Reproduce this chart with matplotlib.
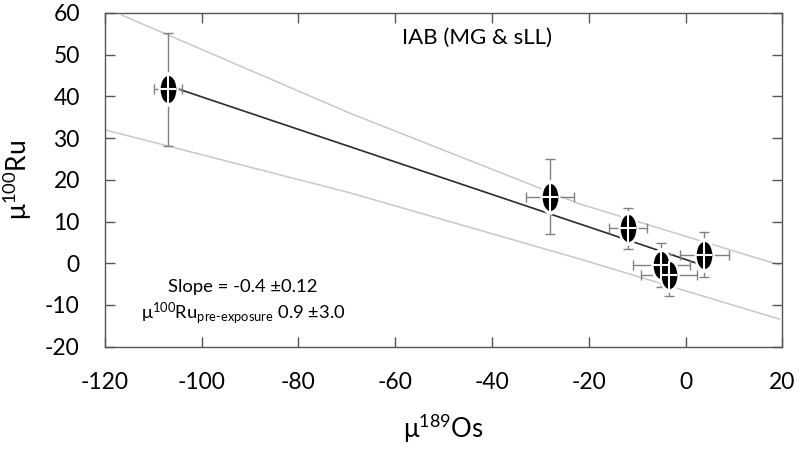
import matplotlib
matplotlib.use("Agg")
from matplotlib import pyplot as plt
from matplotlib.path import Path
from matplotlib.transforms import Affine2D

plt.rcParams["font.family"] = ["Lato", "DejaVu Sans"]
plt.rcParams["mathtext.fontset"] = "custom"
plt.rcParams["mathtext.rm"] = "Lato"
plt.rcParams["axes.unicode_minus"] = False

# samples
os189 = [-107.0, -28.0, -11.9, -5.0, -3.5, 3.9]
ru100 = [41.7, 16.0, 8.4, -0.4, -2.8, 2.0]
os_err = [2.9, 4.9, 4.0, 5.9, 5.8, 5.0]
ru_err = [13.5, 9.1, 4.9, 5.3, 5.0, 5.4]

# regression and envelope
slope = -0.39
intercept = 0.9
fit_x = [-106.5, 3.6]
upper_x = [-116.5, -69.4, -21.8, 19.4]
upper_y = [59.5, 36.0, 14.2, -0.4]
lower_x = [-120.0, -69.4, -21.8, 19.4]
lower_y = [32.0, 16.9, 1.0, -13.4]

xticks = [-120, -100, -80, -60, -40, -20, 0, 20]
yticks = [-20, -10, 0, 10, 20, 30, 40, 50, 60]

fig = plt.figure(figsize=(8, 4.51), dpi=100)
ax = fig.add_axes([0.131, 0.2313, 0.847, 0.7399])

ax.plot(upper_x, upper_y, color="#c8c8c8", lw=1.1, zorder=1)
ax.plot(lower_x, lower_y, color="#c8c8c8", lw=1.1, zorder=1)
fit_y = [intercept + slope * v for v in fit_x]
ax.plot(fit_x, fit_y, color="#2b2b2b", lw=1.2, zorder=2)

ax.errorbar(os189, ru100, xerr=os_err, yerr=ru_err, fmt="none",
            ecolor="#808080", elinewidth=1, capsize=3.5, capthick=1, zorder=3)

# ellipse glyph with a white halo and white cross
ellipse = Affine2D().scale(0.58, 1.0).transform_path(Path.unit_circle())
cross = Path([(-0.58, 0), (0.58, 0), (0, -1), (0, 1)],
             [Path.MOVETO, Path.LINETO, Path.MOVETO, Path.LINETO])
ax.plot(os189, ru100, ls="none", marker=ellipse, ms=25, mfc="white",
        mec="none", zorder=4)
ax.plot(os189, ru100, ls="none", marker=ellipse, ms=19.5, mfc="black",
        mec="none", zorder=5)
ax.plot(os189, ru100, ls="none", marker=cross, ms=19.5, mfc="none",
        mec="white", mew=1.5, zorder=6)

ax.set_xlim(-120, 20)
ax.set_ylim(-20, 60)
ax.set_xticks(xticks)
ax.set_yticks(yticks)
ax.tick_params(direction="in", length=7, width=1, color="#555555",
               top=True, right=True, labelsize=16.5, pad=18)
for s in ax.spines.values():
    s.set_color("#555555")
    s.set_linewidth(1)

ax.set_xlabel(r"$\mathregular{μ^{189}}$Os", fontsize=18.5, labelpad=14)
ax.set_ylabel(r"$\mathregular{μ^{100}}$Ru", fontsize=19, labelpad=8)

ax.text(-43.0, 54.0, "IAB (MG & sLL)", fontsize=16, ha="center", va="center")
ax.text(-91.4, -5.6, "Slope = -0.4 ±0.12", fontsize=13.3, ha="center", va="center")
ax.text(-91.4, -11.9, r"$\mathregular{μ^{100}Ru_{pre\text{-}exposure}}$ 0.9 ±3.0",
        fontsize=13.2, ha="center", va="center")

fig.savefig("out.png", dpi=100)
